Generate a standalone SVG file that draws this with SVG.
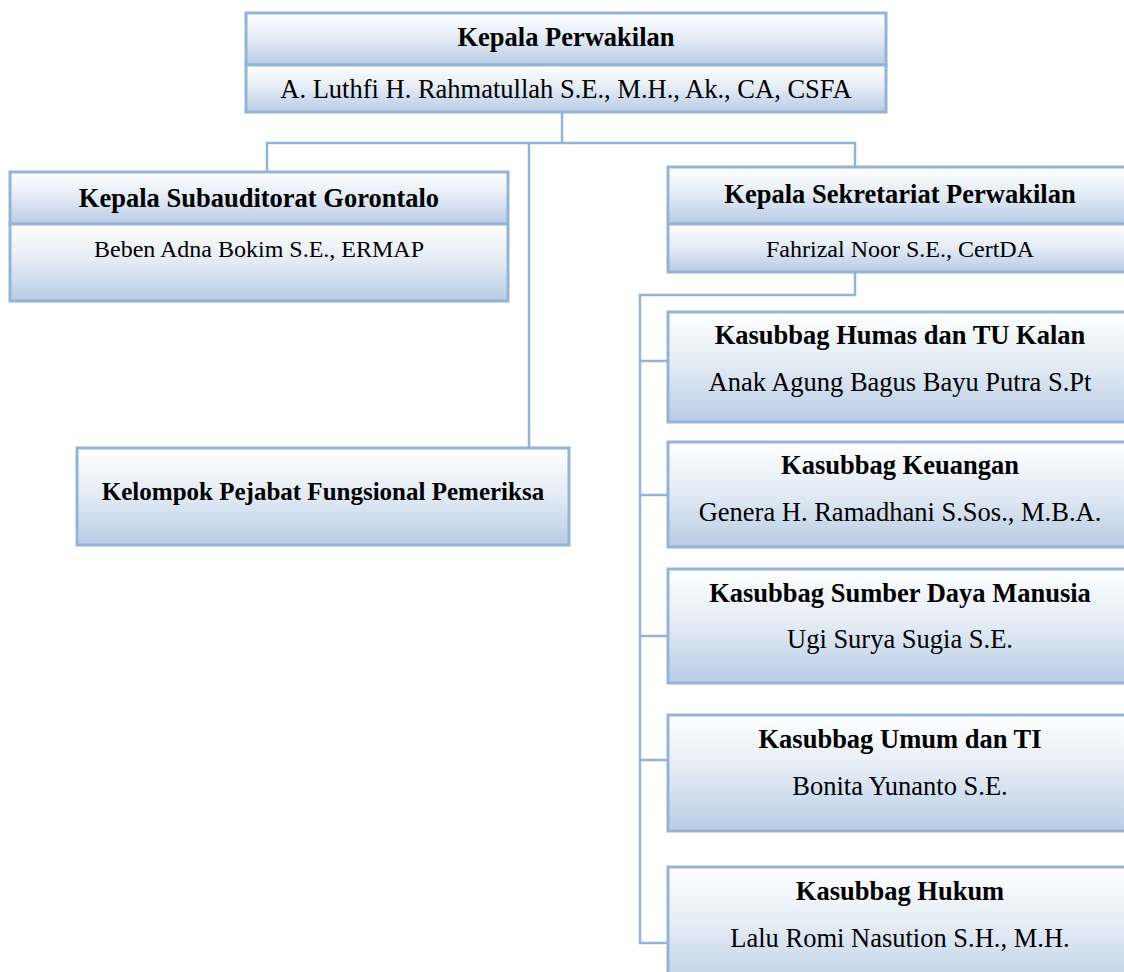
<svg xmlns="http://www.w3.org/2000/svg" width="1124" height="972" viewBox="0 0 1124 972">
<defs>
<linearGradient id="g" x1="0" y1="0" x2="0" y2="1">
<stop offset="0" stop-color="#ffffff"/>
<stop offset="0.45" stop-color="#e6edf6"/>
<stop offset="1" stop-color="#b8cce4"/>
</linearGradient>
</defs>
<style>
.box{fill:url(#g);stroke:#95b3d7;stroke-width:3}
.ln{fill:none;stroke:#95b3d7;stroke-width:2.5}
.t{font-family:"Liberation Serif","Times New Roman",serif;font-weight:bold;font-size:26.5px;fill:#000;text-anchor:middle}
.n{font-family:"Liberation Serif","Times New Roman",serif;font-size:26.5px;fill:#000;text-anchor:middle}
.s{font-size:24px}
</style>
<rect width="1124" height="972" fill="#ffffff"/>
<g id="connectors">
<path class="ln" d="M562,112 V143"/>
<path class="ln" d="M267,172 V143 H855 V167"/>
<path class="ln" d="M529,143 V448"/>
<path class="ln" d="M855,272 V295 H640 V943 H668"/>
<path class="ln" d="M640,361 H668"/>
<path class="ln" d="M640,495 H668"/>
<path class="ln" d="M640,636 H668"/>
<path class="ln" d="M640,760 H668"/>
</g>
<g id="kepala-perwakilan">
<rect class="box" x="246" y="13" width="640" height="52"/>
<rect class="box" x="246" y="65" width="640" height="47"/>
<text class="t" x="566" y="46">Kepala Perwakilan</text>
<text class="n" x="566" y="98">A. Luthfi H. Rahmatullah S.E., M.H., Ak., CA, CSFA</text>
</g>
<g id="kepala-subauditorat">
<rect class="box" x="10" y="172" width="498" height="52"/>
<rect class="box" x="10" y="224" width="498" height="77"/>
<text class="t" x="259" y="207">Kepala Subauditorat Gorontalo</text>
<text class="n s" x="259" y="257">Beben Adna Bokim S.E., ERMAP</text>
</g>
<g id="kepala-sekretariat">
<rect class="box" x="668" y="167" width="464" height="57"/>
<rect class="box" x="668" y="224" width="464" height="48"/>
<text class="t" x="900" y="203">Kepala Sekretariat Perwakilan</text>
<text class="n s" x="900" y="257">Fahrizal Noor S.E., CertDA</text>
</g>
<g id="kelompok-fungsional">
<rect class="box" x="77" y="448" width="492" height="97"/>
<text class="t" x="323" y="500" style="font-size:25px">Kelompok Pejabat Fungsional Pemeriksa</text>
</g>
<g id="kasubbag-humas">
<rect class="box" x="668" y="312" width="464" height="110"/>
<text class="t" x="900" y="344">Kasubbag Humas dan TU Kalan</text>
<text class="n" x="900" y="391">Anak Agung Bagus Bayu Putra S.Pt</text>
</g>
<g id="kasubbag-keuangan">
<rect class="box" x="668" y="442" width="464" height="105"/>
<text class="t" x="900" y="474">Kasubbag Keuangan</text>
<text class="n" x="900" y="521">Genera H. Ramadhani S.Sos., M.B.A.</text>
</g>
<g id="kasubbag-sdm">
<rect class="box" x="668" y="569" width="464" height="114"/>
<text class="t" x="900" y="602">Kasubbag Sumber Daya Manusia</text>
<text class="n" x="900" y="648">Ugi Surya Sugia S.E.</text>
</g>
<g id="kasubbag-umum">
<rect class="box" x="668" y="715" width="464" height="116"/>
<text class="t" x="900" y="748">Kasubbag Umum dan TI</text>
<text class="n" x="900" y="795">Bonita Yunanto S.E.</text>
</g>
<g id="kasubbag-hukum">
<rect class="box" x="668" y="867" width="464" height="125"/>
<text class="t" x="900" y="900">Kasubbag Hukum</text>
<text class="n" x="900" y="947">Lalu Romi Nasution S.H., M.H.</text>
</g>
</svg>
